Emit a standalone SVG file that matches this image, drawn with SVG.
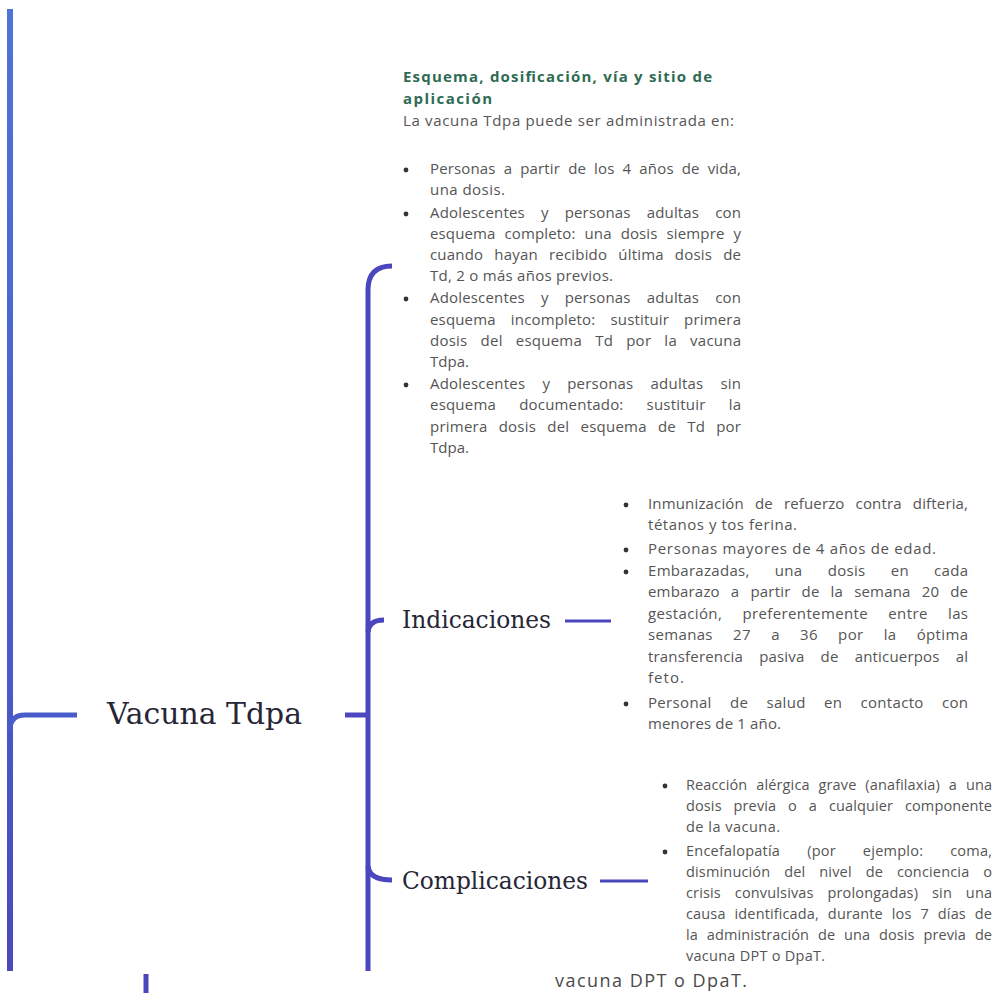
<svg xmlns="http://www.w3.org/2000/svg" width="994" height="993" viewBox="0 0 994 993">
<defs>
<linearGradient id="lg" gradientUnits="userSpaceOnUse" x1="0" y1="0" x2="0" y2="993">
<stop offset="0" stop-color="#4f74d8"/>
<stop offset="0.7" stop-color="#4a58c8"/>
<stop offset="1" stop-color="#4a48b8"/>
</linearGradient>
<style>
.ln{fill:none;stroke:#4b46bd;stroke-width:5;stroke-linecap:butt}
.lt{fill:none;stroke:#4b46bd;stroke-width:3}
.node{font-family:"DejaVu Serif","Liberation Serif",serif;fill:#262636}
.tt{font-family:"Open Sans","Liberation Sans",sans-serif;font-size:15px;fill:#555}
.sm{font-size:14.5px}
.ft{font-size:18px;fill:#4a4a4a}
.hd{font-family:"Open Sans","Liberation Sans",sans-serif;font-size:15px;font-weight:bold;fill:#2e6b52}
.bl{fill:#333}
</style>
</defs>
<rect width="994" height="993" fill="#fff"/>
<g id="connectors">
<line x1="10" y1="9" x2="10" y2="971" stroke="url(#lg)" stroke-width="6"/>
<path d="M10,730 Q10,715 25,715 L77,715" fill="none" stroke="#4a5ccb" stroke-width="5"/>
<line class="ln" x1="345" y1="715" x2="370" y2="715"/>
<path class="ln" d="M392,266 Q368,266 368,290 L368,971"/>
<path class="ln" d="M368,632 Q369,620 384,620"/>
<path class="ln" d="M368,866 Q369,880 392,880"/>
<line class="lt" x1="565" y1="621" x2="611" y2="621"/>
<line class="lt" x1="600" y1="881" x2="648" y2="881"/>
<line x1="146" y1="974" x2="146" y2="993" stroke="#4b46bd" stroke-width="5"/>
</g>
<g id="vacuna">
<text class="node" x="107" y="724" font-size="29" textLength="195" lengthAdjust="spacingAndGlyphs">Vacuna Tdpa</text>
</g>
<g id="indicaciones">
<text class="node" x="402" y="628" font-size="24" textLength="149" lengthAdjust="spacingAndGlyphs">Indicaciones</text>
</g>
<g id="complicaciones">
<text class="node" x="402" y="889" font-size="24" textLength="186" lengthAdjust="spacingAndGlyphs">Complicaciones</text>
</g>
<g id="esquema">
<text class="hd" x="403" y="82" textLength="309" lengthAdjust="spacing">Esquema, dosificación, vía y sitio de</text>
<text class="hd" x="403" y="104" textLength="89" lengthAdjust="spacing">aplicación</text>
<text class="tt" x="403" y="126" textLength="331" lengthAdjust="spacing">La vacuna Tdpa puede ser administrada en:</text>
<circle class="bl" cx="406" cy="170" r="2.4"/>
<circle class="bl" cx="406" cy="214" r="2.4"/>
<circle class="bl" cx="406" cy="299" r="2.4"/>
<circle class="bl" cx="406" cy="385" r="2.4"/>
<text class="tt" x="430" y="174" word-spacing="4" textLength="311" lengthAdjust="spacing">Personas a partir de los 4 años de vida,</text>
<text class="tt" x="430" y="195" textLength="75" lengthAdjust="spacing">una dosis.</text>
<text class="tt" x="430" y="218" word-spacing="12" textLength="311" lengthAdjust="spacing">Adolescentes y personas adultas con</text>
<text class="tt" x="430" y="239" word-spacing="5" textLength="311" lengthAdjust="spacing">esquema completo: una dosis siempre y</text>
<text class="tt" x="430" y="260" word-spacing="7" textLength="311" lengthAdjust="spacing">cuando hayan recibido última dosis de</text>
<text class="tt" x="430" y="281" textLength="183" lengthAdjust="spacing">Td, 2 o más años previos.</text>
<text class="tt" x="430" y="303" word-spacing="12" textLength="311" lengthAdjust="spacing">Adolescentes y personas adultas con</text>
<text class="tt" x="430" y="325" word-spacing="11" textLength="311" lengthAdjust="spacing">esquema incompleto: sustituir primera</text>
<text class="tt" x="430" y="346" word-spacing="9" textLength="311" lengthAdjust="spacing">dosis del esquema Td por la vacuna</text>
<text class="tt" x="430" y="367" textLength="39" lengthAdjust="spacing">Tdpa.</text>
<text class="tt" x="430" y="389" word-spacing="13" textLength="311" lengthAdjust="spacing">Adolescentes y personas adultas sin</text>
<text class="tt" x="430" y="410" word-spacing="19" textLength="311" lengthAdjust="spacing">esquema documentado: sustituir la</text>
<text class="tt" x="430" y="432" word-spacing="7" textLength="311" lengthAdjust="spacing">primera dosis del esquema de Td por</text>
<text class="tt" x="430" y="453" textLength="39" lengthAdjust="spacing">Tdpa.</text>
</g>
<g id="indicaciones-texto">
<circle class="bl" cx="626" cy="505" r="2.4"/>
<circle class="bl" cx="626" cy="550" r="2.4"/>
<circle class="bl" cx="626" cy="572" r="2.4"/>
<circle class="bl" cx="626" cy="704" r="2.4"/>
<text class="tt" x="648" y="509" word-spacing="7" textLength="320" lengthAdjust="spacing">Inmunización de refuerzo contra difteria,</text>
<text class="tt" x="648" y="530" textLength="149" lengthAdjust="spacing">tétanos y tos ferina.</text>
<text class="tt" x="648" y="554" textLength="288" lengthAdjust="spacing">Personas mayores de 4 años de edad.</text>
<text class="tt" x="648" y="576" word-spacing="21" textLength="320" lengthAdjust="spacing">Embarazadas, una dosis en cada</text>
<text class="tt" x="648" y="597" word-spacing="7" textLength="320" lengthAdjust="spacing">embarazo a partir de la semana 20 de</text>
<text class="tt" x="648" y="619" word-spacing="16" textLength="320" lengthAdjust="spacing">gestación, preferentemente entre las</text>
<text class="tt" x="648" y="640" word-spacing="16" textLength="320" lengthAdjust="spacing">semanas 27 a 36 por la óptima</text>
<text class="tt" x="648" y="662" word-spacing="12" textLength="320" lengthAdjust="spacing">transferencia pasiva de anticuerpos al</text>
<text class="tt" x="648" y="683" textLength="36" lengthAdjust="spacing">feto.</text>
<text class="tt" x="648" y="708" word-spacing="14" textLength="320" lengthAdjust="spacing">Personal de salud en contacto con</text>
<text class="tt" x="648" y="729" textLength="133" lengthAdjust="spacing">menores de 1 año.</text>
</g>
<g id="complicaciones-texto">
<circle class="bl" cx="665" cy="786" r="2.4"/>
<circle class="bl" cx="665" cy="852" r="2.4"/>
<text class="tt sm" x="686" y="790" word-spacing="5" textLength="306" lengthAdjust="spacing">Reacción alérgica grave (anafilaxia) a una</text>
<text class="tt sm" x="686" y="811" word-spacing="8" textLength="306" lengthAdjust="spacing">dosis previa o a cualquier componente</text>
<text class="tt sm" x="686" y="832" textLength="94" lengthAdjust="spacing">de la vacuna.</text>
<text class="tt sm" x="686" y="856" word-spacing="23" textLength="306" lengthAdjust="spacing">Encefalopatía (por ejemplo: coma,</text>
<text class="tt sm" x="686" y="877" word-spacing="10" textLength="306" lengthAdjust="spacing">disminución del nivel de conciencia o</text>
<text class="tt sm" x="686" y="898" word-spacing="10" textLength="306" lengthAdjust="spacing">crisis convulsivas prolongadas) sin una</text>
<text class="tt sm" x="686" y="919" word-spacing="5" textLength="306" lengthAdjust="spacing">causa identificada, durante los 7 días de</text>
<text class="tt sm" x="686" y="940" word-spacing="5" textLength="306" lengthAdjust="spacing">la administración de una dosis previa de</text>
<text class="tt sm" x="686" y="961" textLength="139" lengthAdjust="spacing">vacuna DPT o DpaT.</text>
</g>
<g id="pie">
<text class="tt ft" x="555" y="987" textLength="192" lengthAdjust="spacing">vacuna DPT o DpaT.</text>
</g>
</svg>
